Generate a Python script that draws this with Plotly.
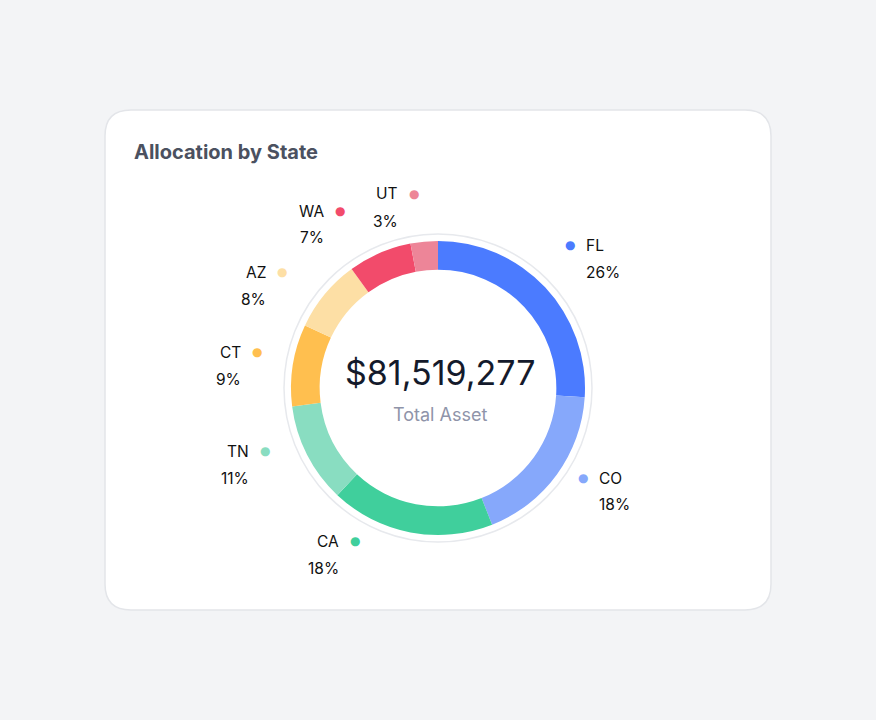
import plotly.graph_objects as go

# ---- data ----
states = ["FL", "CO", "CA", "TN", "CT", "AZ", "WA", "UT"]
shares = [26, 18, 18, 11, 9, 8, 7, 3]
colors = ["#4b7bff", "#86a8fb", "#40cf9c", "#89ddc1", "#ffbf4f", "#fddfa5", "#f24b6b", "#ed8598"]
total_asset = 81519277
title_text = "Allocation by State"
center_caption = "Total Asset"

# ---- layout config (pixel placement of outside labels: dot x, y, side) ----
label_layout = {
    "FL": (570, 245, "right"),
    "CO": (583, 478, "right"),
    "CA": (355, 541, "left"),
    "TN": (265, 451, "left"),
    "CT": (257, 352, "left"),
    "AZ": (282, 272, "left"),
    "WA": (340, 211, "left"),
    "UT": (414, 194, "left"),
}

W, H = 876, 720
CX, CY, R_OUT = 438, 388, 147
FONT = "Inter"


def px(x):
    return x / W


def py(y):
    return 1 - y / H


fig = go.Figure()
fig.add_trace(go.Pie(
    labels=states,
    values=shares,
    marker=dict(colors=colors, line=dict(width=0)),
    hole=0.805,
    sort=False,
    direction="clockwise",
    rotation=0,
    textinfo="none",
    hoverinfo="label+percent",
    showlegend=False,
    domain=dict(x=[px(CX - R_OUT), px(CX + R_OUT)], y=[py(CY + R_OUT), py(CY - R_OUT)]),
))

shapes = []
# card with rounded corners
x0, y0, x1, y1, r = 105, 110, 771, 610, 26
path = (
    f"M {px(x0 + r)},{py(y0)} L {px(x1 - r)},{py(y0)} Q {px(x1)},{py(y0)} {px(x1)},{py(y0 + r)} "
    f"L {px(x1)},{py(y1 - r)} Q {px(x1)},{py(y1)} {px(x1 - r)},{py(y1)} "
    f"L {px(x0 + r)},{py(y1)} Q {px(x0)},{py(y1)} {px(x0)},{py(y1 - r)} "
    f"L {px(x0)},{py(y0 + r)} Q {px(x0)},{py(y0)} {px(x0 + r)},{py(y0)} Z"
)
shapes.append(dict(type="path", xref="paper", yref="paper", path=path,
                   fillcolor="white", line=dict(color="#e3e5e9", width=1.5), layer="below"))
# thin outer ring
RG = 154
shapes.append(dict(type="circle", xref="paper", yref="paper",
                   x0=px(CX - RG), x1=px(CX + RG), y0=py(CY + RG), y1=py(CY - RG),
                   line=dict(color="#e7e9ed", width=1.5), fillcolor="rgba(0,0,0,0)", layer="below"))

annotations = []
annotations.append(dict(x=px(132), y=py(152), xref="paper", yref="paper", xanchor="left", yanchor="middle",
                        text=f"<b>{title_text}</b>", showarrow=False,
                        font=dict(family=FONT, size=20, color="#4b5160")))
annotations.append(dict(x=px(CX + 2), y=py(372), xref="paper", yref="paper", xanchor="center", yanchor="middle",
                        text=f"${total_asset:,}", showarrow=False,
                        font=dict(family=FONT, size=34, color="#141a2b")))
annotations.append(dict(x=px(CX + 2), y=py(415), xref="paper", yref="paper", xanchor="center", yanchor="middle",
                        text=center_caption, showarrow=False,
                        font=dict(family=FONT, size=18, color="#8f94a9")))

tot = sum(shares)
for s, v, c in zip(states, shares, colors):
    dx, dy, side = label_layout[s]
    pct = f"{round(v / tot * 100)}%"
    annotations.append(dict(x=px(dx), y=py(dy), xref="paper", yref="paper", xanchor="center", yanchor="middle",
                            text="●", showarrow=False, font=dict(family="DejaVu Sans", size=12, color=c)))
    if side == "right":
        tx, anchor = dx + 14, "left"
    else:
        tx, anchor = dx - 14, "right"
    annotations.append(dict(x=px(tx), y=py(dy), xref="paper", yref="paper", xanchor=anchor, yanchor="middle",
                            text=s, showarrow=False, font=dict(family=FONT, size=15.5, color="#111111")))
    annotations.append(dict(x=px(tx), y=py(dy + 27), xref="paper", yref="paper", xanchor=anchor, yanchor="middle",
                            text=pct, showarrow=False, font=dict(family=FONT, size=15.5, color="#111111")))

fig.update_layout(
    width=W, height=H,
    margin=dict(l=0, r=0, t=0, b=0),
    paper_bgcolor="#f3f4f6",
    plot_bgcolor="#f3f4f6",
    shapes=shapes,
    annotations=annotations,
    showlegend=False,
)

fig.write_html("out.html")
